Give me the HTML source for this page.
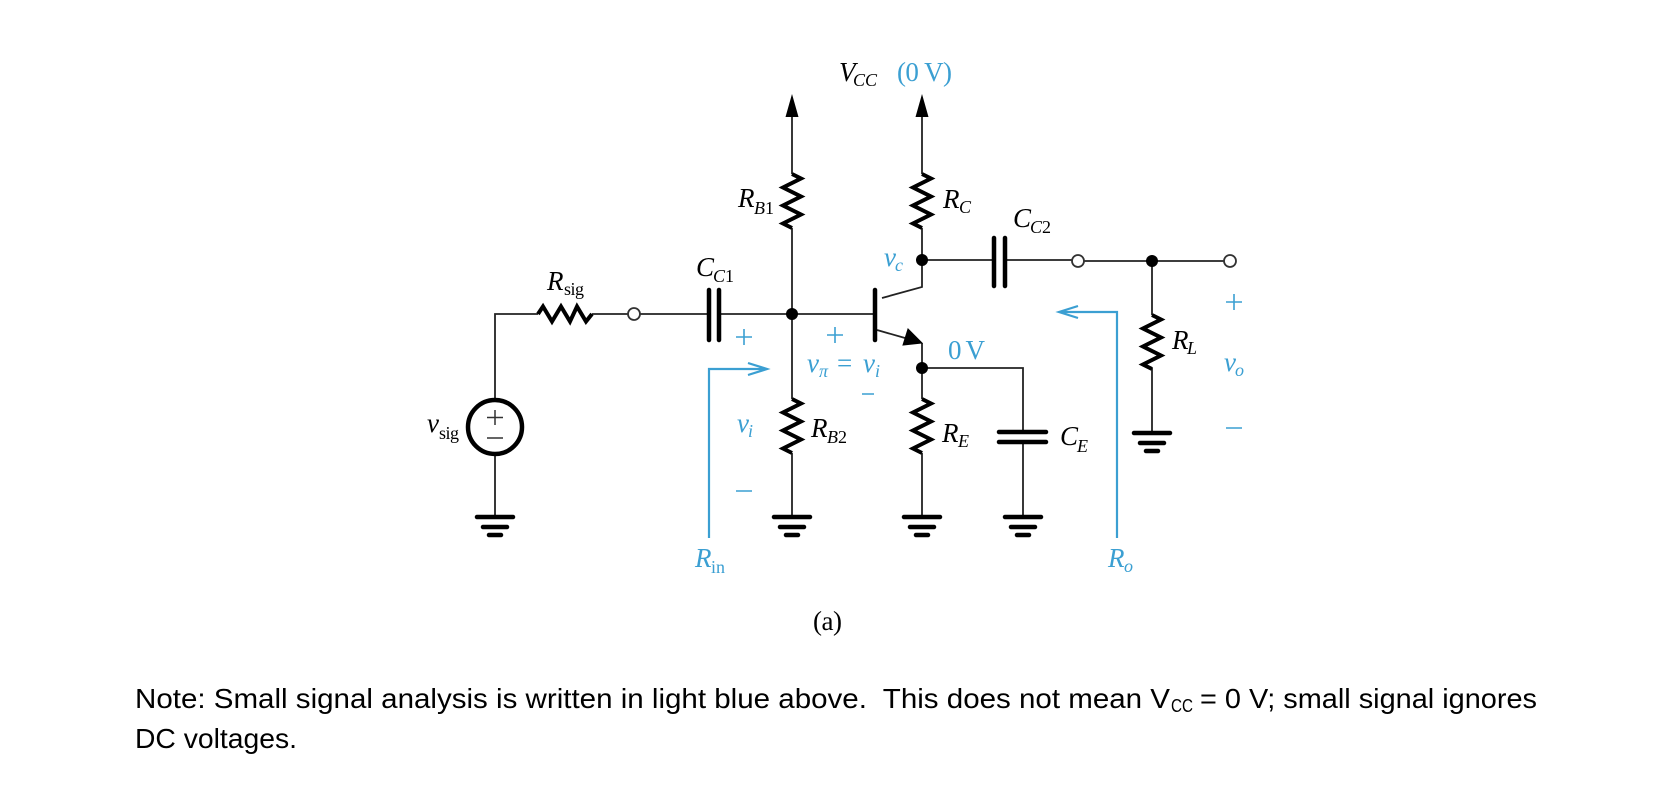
<!DOCTYPE html>
<html><head><meta charset="utf-8"><style>
html,body{margin:0;padding:0;background:#fff;width:1656px;height:796px;overflow:hidden}
svg{display:block}
.t{font-family:"Liberation Serif",serif;font-size:27px;fill:#000}
.i{font-style:italic}
.s{font-size:18px}
.b{fill:#3a9fd2}
.n{font-family:"Liberation Sans",sans-serif;font-size:28px;fill:#000}
</style></head><body>
<svg width="1656" height="796" viewBox="0 0 1656 796" xmlns="http://www.w3.org/2000/svg">
<defs>
<g id="g"><path d="M-18 0H18M-12 10H12M-6 18H6" stroke="#000" stroke-width="4.5" stroke-linecap="round" fill="none"/></g>
<path id="r" d="M0 0L9 4.5L-9 13.5L9 22.5L-9 31.5L9 40.5L-9 49.5L0 54" stroke="#000" stroke-width="4" fill="none" stroke-linejoin="miter"/>
<filter id="bl" x="0" y="0" width="100%" height="100%"><feGaussianBlur stdDeviation="0.35"/></filter>
</defs>
<g filter="url(#bl)">
<g stroke="#222" stroke-width="1.8" fill="none">
<path d="M495 398V314H538M592 314H628M640 314H709M719 314H875"/>
<path d="M495 456V517"/>
<path d="M792 110V174M792 228V399M792 453V517"/>
<path d="M922 110V174M922 228V287L882 298"/>
<path d="M922 260H994M1005 260H1072M1084 261H1224"/>
<path d="M877 330L905 338M922 343V399M922 453V517"/>
<path d="M922 368H1023V432M1023 442V517"/>
<path d="M1152 261V315M1152 368V433"/>
</g>
<circle cx="495" cy="427" r="27" stroke="#000" stroke-width="4.5" fill="#fff"/>
<path d="M495 410V425M487 417.500H503M487 438H503" stroke="#333" stroke-width="1.500" fill="none"/>
<path d="M792 94L785.500 117H798.500ZM922 94L915.500 117H928.500Z" fill="#000"/>
<path d="M908 329L903 345L922 343Z" fill="#000" stroke="#000"/>
<path d="M875 290V340" stroke="#000" stroke-width="4.500" stroke-linecap="round"/>
<path d="M709 290V340M719 290V340M994 238V286M1005 238V286M999 432H1046M999 442H1046" stroke="#000" stroke-width="4.500" stroke-linecap="round" fill="none"/>
<use href="#r" x="792" y="174"/><use href="#r" x="922" y="174"/>
<use href="#r" x="792" y="399"/><use href="#r" x="922" y="399"/>
<use href="#r" x="1152" y="315"/>
<path d="M538 314L543 306.500L552 321.500L561 306.500L570 321.500L577 306.500L586 321.500L592 314" stroke="#000" stroke-width="4" fill="none"/>
<circle cx="792" cy="314" r="6" fill="#000"/><circle cx="922" cy="260" r="6" fill="#000"/><circle cx="922" cy="368" r="6" fill="#000"/><circle cx="1152" cy="261" r="6" fill="#000"/>
<g fill="#fff" stroke="#333" stroke-width="1.800"><circle cx="634" cy="314" r="6"/><circle cx="1078" cy="261" r="6"/><circle cx="1230" cy="261" r="6"/></g>
<use href="#g" x="495" y="517"/><use href="#g" x="792" y="517"/><use href="#g" x="922" y="517"/><use href="#g" x="1023" y="517"/><use href="#g" x="1152" y="433"/>
<g stroke="#3a9fd2" stroke-width="2.200" fill="none">
<path d="M709 538V369H767M748 363L767 369L748 375"/>
<path d="M1117 538V312H1059M1078 306L1059 312L1078 318"/>
<path d="M736 337H752M744 329V345M827 335H843M835 327V343M862 394H874M736 491H752M1226 302H1242M1234 294V310M1226 428H1242" stroke-width="1.600"/>
</g>
<text class="t i" x="839" y="81">V</text><text class="t i s" x="853" y="86">CC</text>
<text class="t b" x="897" y="81" textLength="55">(0 V)</text>
<text class="t i" x="738" y="207">R</text><text class="t i s" x="754" y="214">B</text><text class="t s" x="765" y="214">1</text>
<text class="t i" x="943" y="208">R</text><text class="t i s" x="959" y="213">C</text>
<text class="t i" x="1013" y="227">C</text><text class="t i s" x="1030" y="233">C</text><text class="t s" x="1042" y="233">2</text>
<text class="t i" x="696" y="276">C</text><text class="t i s" x="713" y="282">C</text><text class="t s" x="725" y="282">1</text>
<text class="t i" x="547" y="290">R</text><text class="t s" x="564" y="295" textLength="20">sig</text>
<text class="t i" x="427" y="432">v</text><text class="t s" x="439" y="439" textLength="20">sig</text>
<text class="t i b" x="884" y="266">v</text><text class="t i s b" x="895" y="271">c</text>
<text class="t i b" x="807" y="372">v</text><text class="t i s b" x="819" y="377">π</text><text class="t b" x="837" y="372">=</text><text class="t i b" x="863" y="372">v</text><text class="t i s b" x="875" y="377">i</text>
<text class="t b" x="948" y="359" textLength="37">0 V</text>
<text class="t i b" x="737" y="432">v</text><text class="t i s b" x="748" y="437">i</text>
<text class="t i" x="811" y="437">R</text><text class="t i s" x="827" y="443">B</text><text class="t s" x="838" y="443">2</text>
<text class="t i" x="942" y="442">R</text><text class="t i s" x="958" y="447">E</text>
<text class="t i" x="1060" y="445">C</text><text class="t i s" x="1077" y="452">E</text>
<text class="t i" x="1172" y="349">R</text><text class="t i s" x="1187" y="354">L</text>
<text class="t i b" x="1224" y="371">v</text><text class="t i s b" x="1235" y="376">o</text>
<text class="t i b" x="695" y="567">R</text><text class="t s b" x="711" y="573">in</text>
<text class="t i b" x="1108" y="567">R</text><text class="t i s b" x="1124" y="572">o</text>
<text class="t" x="813" y="630" textLength="29">(a)</text>
</g>
<text class="n" x="135" y="708" textLength="1035" lengthAdjust="spacingAndGlyphs" xml:space="preserve">Note: Small signal analysis is written in light blue above.  This does not mean V</text>
<text class="n" x="1171" y="712" style="font-size:18px" textLength="22" lengthAdjust="spacingAndGlyphs">CC</text>
<text class="n" x="1200" y="708" textLength="337" lengthAdjust="spacingAndGlyphs">= 0 V; small signal ignores</text>
<text class="n" x="135" y="748" textLength="162" lengthAdjust="spacingAndGlyphs">DC voltages.</text>
</svg>
</body></html>
